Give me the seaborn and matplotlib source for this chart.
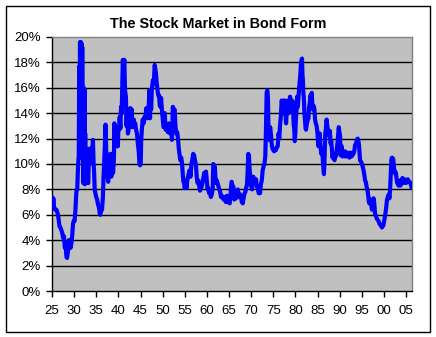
import matplotlib
matplotlib.use("Agg")
import matplotlib.pyplot as plt
import matplotlib.patches as mpatches
import seaborn as sns
import pandas as pd

title = "The Stock Market in Bond Form"
x_ticks = [1925, 1930, 1935, 1940, 1945, 1950, 1955, 1960, 1965, 1970, 1975, 1980, 1985, 1990, 1995, 2000, 2005]
x_labels = ["25", "30", "35", "40", "45", "50", "55", "60", "65", "70", "75", "80", "85", "90", "95", "00", "05"]
y_ticks = [0, 2, 4, 6, 8, 10, 12, 14, 16, 18, 20]
y_labels = ["0%", "2%", "4%", "6%", "8%", "10%", "12%", "14%", "16%", "18%", "20%"]

years = [
    1925.0, 1925.15, 1925.3, 1925.5, 1925.75, 1926.0, 1926.2, 1926.4, 1926.7, 1926.9,
    1927.1, 1927.3, 1927.5, 1927.7, 1927.9, 1928.1, 1928.25, 1928.4, 1928.6, 1928.8,
    1929.0, 1929.2, 1929.4, 1929.6, 1929.75, 1929.9, 1930.1, 1930.3, 1930.5, 1930.7,
    1930.9, 1931.05, 1931.15, 1931.25, 1931.33, 1931.42, 1931.5, 1931.58, 1931.67, 1931.75,
    1931.83, 1931.92, 1932.0, 1932.08, 1932.17, 1932.25, 1932.33, 1932.42, 1932.5, 1932.6,
    1932.75, 1932.9, 1933.05, 1933.2,
    1933.35, 1933.5, 1933.65, 1933.8, 1934.0, 1934.15, 1934.25, 1934.4, 1934.5, 1934.65,
    1934.8, 1935.0, 1935.2, 1935.4, 1935.6, 1935.8, 1935.9, 1936.1, 1936.3, 1936.5,
    1936.65, 1936.8, 1936.95, 1937.1, 1937.25, 1937.4, 1937.55, 1937.7, 1937.85, 1938.0,
    1938.2, 1938.4, 1938.6, 1938.8, 1939.0, 1939.1, 1939.25, 1939.4, 1939.5, 1939.7,
    1939.9, 1940.0, 1940.15, 1940.3, 1940.45, 1940.6, 1940.75, 1940.9, 1941.0, 1941.2,
    1941.35, 1941.5, 1941.7, 1941.85, 1942.0, 1942.15, 1942.3, 1942.5, 1942.7, 1942.85,
    1943.0, 1943.15, 1943.3, 1943.5, 1943.65, 1943.8, 1944.0, 1944.2, 1944.4, 1944.6,
    1944.75, 1944.9, 1945.05, 1945.15, 1945.3, 1945.5, 1945.7, 1945.9, 1946.1, 1946.3,
    1946.5, 1946.7, 1946.85, 1947.0, 1947.15, 1947.3, 1947.4, 1947.55, 1947.8, 1948.0,
    1948.2, 1948.35, 1948.5, 1948.65, 1948.8, 1949.0, 1949.2, 1949.35, 1949.5, 1949.65,
    1949.8, 1950.0, 1950.2, 1950.35, 1950.5, 1950.6, 1950.7, 1950.85, 1951.0, 1951.2,
    1951.4, 1951.55, 1951.7, 1951.85, 1952.0, 1952.1, 1952.2, 1952.3, 1952.5, 1952.7,
    1952.9, 1953.1, 1953.3, 1953.5, 1953.65, 1953.8, 1954.0, 1954.2, 1954.4, 1954.55,
    1954.7, 1954.85, 1955.0, 1955.2, 1955.4, 1955.6, 1955.75, 1956.0, 1956.1, 1956.3,
    1956.5, 1956.7, 1956.9, 1957.1, 1957.3, 1957.5, 1957.7, 1957.9, 1958.1, 1958.3,
    1958.45, 1958.6, 1958.8, 1959.0, 1959.2, 1959.4, 1959.6, 1959.8, 1960.0, 1960.15,
    1960.3, 1960.5, 1960.7, 1960.9, 1961.1, 1961.3, 1961.45, 1961.6, 1961.8, 1961.95,
    1962.1, 1962.25, 1962.4, 1962.6, 1962.8, 1963.0, 1963.2, 1963.4, 1963.6, 1963.8,
    1963.9, 1964.1, 1964.3, 1964.5, 1964.7, 1964.9, 1965.15, 1965.3, 1965.45, 1965.6,
    1965.8, 1966.0, 1966.1, 1966.2, 1966.4, 1966.6, 1966.8, 1967.0, 1967.15, 1967.3,
    1967.5, 1967.7, 1967.9, 1968.1, 1968.3, 1968.5, 1968.7, 1968.9, 1969.05, 1969.2,
    1969.35, 1969.5, 1969.65, 1969.8, 1970.0, 1970.2, 1970.35, 1970.5, 1970.7, 1970.9,
    1971.1, 1971.3, 1971.5, 1971.7, 1971.9, 1972.0, 1972.2, 1972.4, 1972.6, 1972.8,
    1973.0, 1973.2, 1973.35, 1973.5, 1973.65, 1973.8, 1973.9, 1974.0, 1974.1, 1974.3,
    1974.5, 1974.7, 1974.85, 1975.0, 1975.2, 1975.4, 1975.6, 1975.8, 1976.0, 1976.2,
    1976.35, 1976.5, 1976.7, 1976.9, 1977.1, 1977.3, 1977.45, 1977.6, 1977.75, 1977.9,
    1978.05, 1978.2, 1978.35, 1978.5, 1978.65, 1978.8, 1978.95, 1979.1, 1979.25, 1979.4,
    1979.6, 1979.75, 1979.85, 1980.0, 1980.1, 1980.25, 1980.4, 1980.55, 1980.7, 1980.85,
    1981.0, 1981.15, 1981.25, 1981.4, 1981.5, 1981.6, 1981.7, 1981.8, 1981.9, 1982.05,
    1982.2, 1982.3, 1982.4, 1982.6, 1982.8, 1982.95, 1983.1, 1983.25, 1983.4, 1983.55,
    1983.7, 1983.8, 1983.9, 1984.1, 1984.3, 1984.45, 1984.6, 1984.8, 1985.0, 1985.1,
    1985.2, 1985.35, 1985.5, 1985.65, 1985.85, 1986.0, 1986.15, 1986.3, 1986.45, 1986.6,
    1986.75, 1986.9, 1987.05, 1987.2, 1987.35, 1987.5, 1987.65, 1987.8, 1987.95, 1988.1,
    1988.25, 1988.4, 1988.55, 1988.7, 1988.85, 1989.0, 1989.15, 1989.3, 1989.5, 1989.65,
    1989.8, 1989.95, 1990.1, 1990.2, 1990.3, 1990.45, 1990.6, 1990.8, 1991.0, 1991.2,
    1991.4, 1991.6, 1991.8, 1992.0, 1992.2, 1992.35, 1992.5, 1992.7, 1992.9, 1993.1,
    1993.3, 1993.5, 1993.7, 1993.85, 1994.1, 1994.25, 1994.4, 1994.5, 1994.6, 1994.8,
    1995.0, 1995.2, 1995.4, 1995.6, 1995.75, 1995.9, 1996.1, 1996.3, 1996.5, 1996.6,
    1996.7, 1996.85, 1997.0, 1997.15, 1997.3, 1997.45, 1997.65, 1997.8, 1998.0, 1998.2,
    1998.4, 1998.6, 1998.8, 1999.0, 1999.2, 1999.4, 1999.55, 1999.75, 1999.9, 2000.1,
    2000.3, 2000.5, 2000.7, 2000.9, 2001.1, 2001.25, 2001.4, 2001.6, 2001.7, 2001.85,
    2002.0, 2002.1, 2002.25, 2002.4, 2002.55, 2002.7, 2002.85, 2003.0, 2003.15, 2003.3,
    2003.45, 2003.6, 2003.75, 2003.9, 2004.05, 2004.2, 2004.35, 2004.5, 2004.65, 2004.8,
    2005.0, 2005.2, 2005.4, 2005.6, 2005.8, 2006.0, 2006.15, 2006.3,
]

yields = [
    7.4, 6.6, 7.3, 6.5, 6.4, 6.4, 6.2, 5.9, 5.1, 5.0,
    4.8, 4.6, 4.2, 4.3, 3.4, 3.5, 2.7, 2.6, 3.1, 4.0,
    4.0, 3.4, 3.8, 4.5, 5.3, 5.5, 5.5, 6.4, 7.8, 8.0,
    10.0, 10.6, 17.7, 10.6, 19.6, 10.5, 19.6, 11.0, 19.5, 10.6,
    19.2, 12.0, 15.8, 8.5, 16.0, 9.0, 15.9, 8.4, 12.4, 8.5,
    10.5, 10.6, 8.6, 8.5,
    11.2, 10.0, 11.2, 10.6, 11.3, 11.2, 11.9, 10.0, 9.5, 8.0,
    7.7, 7.4, 7.2, 6.8, 6.6, 6.1, 6.0, 6.3, 6.4, 7.4,
    9.0, 10.2, 11.5, 13.1, 11.0, 10.3, 9.0, 8.6, 10.4, 10.0,
    10.8, 9.0, 10.8, 9.3, 10.5, 13.2, 11.5, 12.0, 11.9, 11.4,
    11.4, 12.9, 12.7, 13.7, 12.8, 14.5, 14.0, 16.5, 18.2, 17.5,
    18.2, 15.8, 15.3, 13.0, 14.3, 12.4, 12.7, 13.3, 14.4, 13.0,
    14.3, 12.9, 13.2, 13.5, 12.9, 13.2, 12.7, 12.4, 11.6, 11.0,
    10.1, 9.9, 10.0, 11.8, 12.7, 13.5, 13.2, 13.7, 13.6, 14.4,
    13.6, 13.7, 14.5, 15.8, 13.6, 15.3, 14.3, 15.8, 16.6, 16.3,
    17.8, 17.5, 17.1, 16.4, 16.0, 15.4, 15.4, 14.6, 14.5, 15.2,
    14.4, 13.6, 12.9, 13.0, 14.0, 12.9, 12.7, 13.1, 12.9, 12.5,
    13.2, 12.9, 12.4, 12.9, 12.9, 11.9, 13.0, 14.5, 14.1, 14.3,
    13.0, 12.4, 12.5, 11.9, 11.2, 10.8, 10.3, 10.5, 10.0, 9.2,
    8.6, 8.5, 8.1, 8.6, 8.1, 8.8, 9.0, 9.4, 9.5, 9.0,
    10.0, 10.3, 10.8, 10.7, 10.3, 10.0, 9.0, 8.5, 8.7, 8.2,
    7.9, 8.0, 8.2, 8.5, 8.9, 9.3, 9.1, 9.4, 8.6, 8.0,
    8.1, 7.7, 7.9, 7.4, 7.6, 8.0, 10.0, 9.9, 9.8, 8.8,
    8.5, 8.7, 8.5, 8.2, 8.0, 7.8, 7.4, 7.5, 7.3, 7.2,
    7.2, 7.4, 7.0, 7.5, 7.3, 7.0, 6.9, 7.4, 8.2, 8.6,
    8.3, 8.2, 7.5, 7.2, 7.6, 7.3, 7.8, 8.0, 7.6, 7.4,
    7.6, 7.4, 7.0, 6.9, 7.3, 7.7, 7.8, 8.2, 8.3, 9.3,
    10.8, 10.7, 9.6, 9.0, 8.3, 8.0, 8.6, 9.0, 8.6, 8.5,
    8.8, 8.2, 8.1, 7.7, 7.8, 7.7, 8.4, 8.7, 9.5, 9.8,
    10.0, 10.6, 12.7, 15.6, 15.8, 15.2, 13.0, 12.7, 11.9, 12.9,
    12.2, 11.4, 11.2, 11.1, 11.0, 11.2, 11.1, 11.3, 11.4, 12.4,
    12.0, 12.9, 13.7, 15.0, 14.6, 14.0, 15.0, 15.0, 14.0, 13.2,
    14.2, 14.5, 15.0, 14.0, 14.8, 15.3, 14.6, 14.3, 15.0, 14.9,
    13.2, 12.7, 11.8, 12.5, 13.5, 14.2, 15.3, 14.5, 15.3, 16.0,
    16.6, 17.2, 17.9, 18.2, 18.3, 17.0, 16.6, 15.5, 15.3, 14.0,
    13.2, 12.8, 12.7, 13.2, 13.5, 13.6, 14.5, 14.8, 15.4, 15.0,
    15.6, 14.8, 14.3, 14.6, 14.3, 13.5, 13.2, 13.0, 12.4, 11.8,
    11.4, 12.0, 12.4, 11.5, 10.8, 11.2, 10.6, 9.8, 9.2, 10.5,
    12.4, 12.8, 13.5, 13.0, 12.7, 12.5, 12.2, 12.6, 11.6, 11.8,
    11.1, 10.5, 10.8, 10.4, 10.3, 10.8, 10.6, 11.0, 11.6, 12.3,
    12.9, 12.5, 12.2, 10.7, 11.0, 11.4, 10.6, 10.8, 10.6, 11.0,
    10.6, 10.6, 10.9, 10.8, 10.5, 10.7, 10.9, 10.6, 10.7, 10.8,
    11.0, 11.5, 11.6, 11.9, 12.0, 11.8, 11.4, 10.8, 10.3, 10.2,
    10.05, 9.8, 9.5, 9.1, 8.7, 8.6, 8.2, 7.9, 7.4, 7.0,
    6.9, 7.1, 7.2, 6.8, 6.4, 6.5, 7.3, 7.0, 6.1, 5.9,
    5.7, 5.6, 5.5, 5.3, 5.2, 5.1, 5.0, 5.1, 5.2, 5.6,
    6.0, 6.5, 7.2, 7.4, 7.6, 7.3, 8.0, 9.5, 10.4, 10.5,
    10.3, 10.4, 9.8, 9.3, 9.4, 9.3, 8.9, 8.5, 8.5, 8.3,
    8.6, 8.7, 8.3, 8.6, 8.7, 8.9, 8.5, 8.6, 8.8, 8.7,
    8.5, 8.6, 8.8, 8.6, 8.6, 8.5, 8.3, 8.1,
]

df = pd.DataFrame({"year": years, "yield": yields})

sns.set_theme(style="white")
plt.rcParams["font.family"] = ["Liberation Sans", "DejaVu Sans"]

fig = plt.figure(figsize=(4.36, 3.37), dpi=100)
fig.patch.set_facecolor("white")
ax = fig.add_axes([52 / 436, 1 - 291 / 337, 360 / 436, 254 / 337])
ax.set_facecolor("#C0C0C0")

sns.lineplot(data=df, x="year", y="yield", color="#0000FF", linewidth=3.0,
             sort=False, estimator=None, ax=ax, zorder=3)

ax.set_xlim(1925, 2006.35)
ax.set_ylim(0, 20)
ax.set_yticks(y_ticks)
ax.set_yticklabels(y_labels)
ax.set_xticks(x_ticks)
ax.set_xticklabels(x_labels)
ax.set_xlabel("")
ax.set_ylabel("")

for yv in y_ticks[1:-1]:
    ax.axhline(yv, color="black", linewidth=1.0, zorder=1)

ax.tick_params(axis="y", direction="out", length=4, width=1, pad=4,
               labelsize=9.5, colors="black", left=True)
ax.tick_params(axis="x", direction="out", length=4, width=1, pad=6,
               labelsize=9.5, colors="black", bottom=True)

for side in ["left", "bottom"]:
    ax.spines[side].set_color("black")
    ax.spines[side].set_linewidth(1.0)
for side in ["top", "right"]:
    ax.spines[side].set_color("#808080")
    ax.spines[side].set_linewidth(1.0)
    ax.spines[side].set_visible(True)

fig.text(218 / 436, 1 - 24 / 337, title, ha="center", va="center",
         fontsize=10.4, fontweight="bold", color="black")

frame = mpatches.Rectangle((5.5 / 436, 5.5 / 337), 424 / 436, 326 / 337,
                           transform=fig.transFigure, fill=False,
                           edgecolor="black", linewidth=1.0)
fig.patches.append(frame)

fig.savefig("out.png", dpi=100, facecolor="white")
